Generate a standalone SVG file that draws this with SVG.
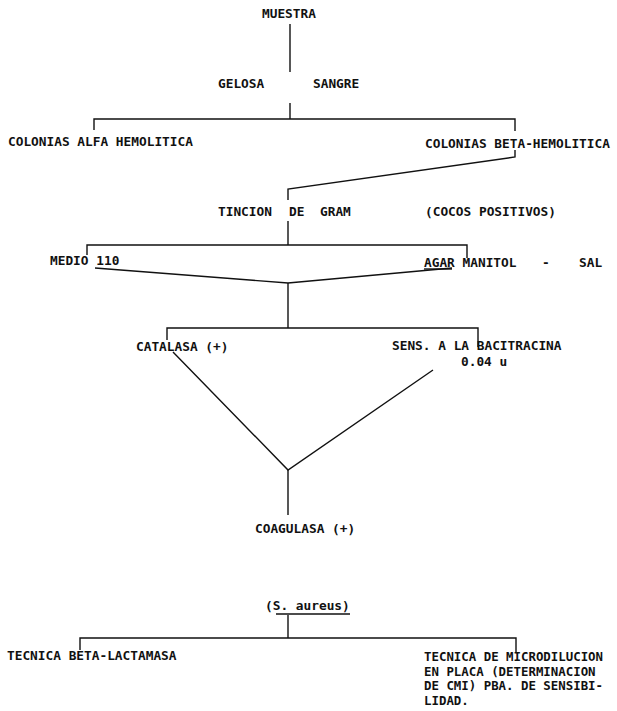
<svg xmlns="http://www.w3.org/2000/svg" width="617" height="711" viewBox="0 0 617 711">
<style>
text{font-family:"DejaVu Sans Mono","Liberation Mono",monospace;font-size:12.8px;fill:#111;font-weight:bold}
.sm{font-size:12.4px}
.c line,.c polyline{stroke:#111;stroke-width:1.4;fill:none}
</style>
<rect width="617" height="711" fill="#fff"/>
<g class="c" id="connectors">
<line x1="290" y1="24" x2="290" y2="72"/>
<line x1="290" y1="103" x2="290" y2="119"/>
<polyline points="94,130 94,119 515,119 515,131"/>
<polyline points="515,150 515,157 288,189 288,200"/>
<line x1="288" y1="221" x2="288" y2="245"/>
<polyline points="87,255 87,245 467,245 467,258"/>
<polyline points="95,268 288,283 452,268"/>
<line x1="288" y1="283" x2="288" y2="328"/>
<polyline points="167,340 167,328 478,328 478,347"/>
<polyline points="173,352 288,470 433,370"/>
<line x1="288" y1="470" x2="288" y2="515"/>
<line x1="288" y1="615" x2="288" y2="638"/>
<polyline points="80,650 80,638 516,638 516,653"/>
<line x1="276" y1="614" x2="350" y2="614"/>
<line x1="424" y1="269" x2="452" y2="269"/>
</g>
<g id="muestra"><text x="262" y="18">MUESTRA</text></g>
<g id="gelosa-sangre"><text x="218" y="88">GELOSA</text><text x="313" y="88">SANGRE</text></g>
<g id="alfa"><text x="8" y="146">COLONIAS ALFA HEMOLITICA</text></g>
<g id="beta"><text x="425" y="148">COLONIAS BETA-HEMOLITICA</text></g>
<g id="tincion"><text x="218" y="216">TINCION</text><text x="289" y="216">DE</text><text x="320" y="216">GRAM</text></g>
<g id="cocos"><text x="425" y="216">(COCOS POSITIVOS)</text></g>
<g id="medio"><text x="50" y="265">MEDIO 110</text></g>
<g id="agar"><text x="424" y="267">AGAR MANITOL</text><text x="542" y="267">-</text><text x="579" y="267">SAL</text></g>
<g id="catalasa"><text x="136" y="351">CATALASA (+)</text></g>
<g id="bacitracina"><text x="392" y="350">SENS. A LA BACITRACINA</text><text x="461" y="366">0.04 u</text></g>
<g id="coagulasa"><text x="255" y="533">COAGULASA (+)</text></g>
<g id="aureus"><text x="265" y="610">(S. aureus)</text></g>
<g id="lactamasa"><text x="7" y="660">TECNICA BETA-LACTAMASA</text></g>
<g id="microdilucion"><text class="sm" x="424" y="661">TECNICA DE MICRODILUCION</text><text class="sm" x="424" y="675.5">EN PLACA (DETERMINACION</text><text class="sm" x="424" y="690">DE CMI) PBA. DE SENSIBI-</text><text class="sm" x="424" y="704.5">LIDAD.</text></g>
</svg>
